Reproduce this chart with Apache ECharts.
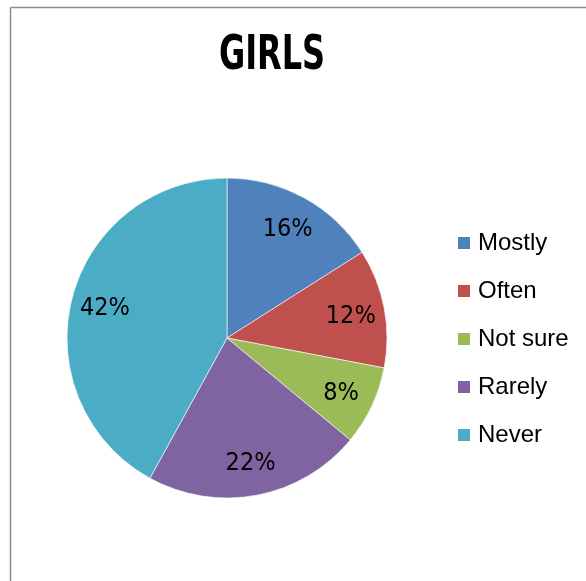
<!DOCTYPE html>
<html>
<head>
<meta charset="utf-8">
<script src="https://cdn.jsdelivr.net/npm/echarts@6/dist/echarts.min.js"></script>
<style>
  html, body { margin: 0; padding: 0; background: #fff; }
  #myChart { width: 586px; height: 581px; }
</style>
</head>
<body>
<div id="myChart"></div>
<script>
  // 数据
  const categories = ['Mostly', 'Often', 'Not sure', 'Rarely', 'Never'];
  const values = [16, 12, 8, 22, 42];
  const colors = ['#4F81BD', '#C0504D', '#9BBB59', '#8064A2', '#4BACC6'];
  const titleText = 'GIRLS';

  const pieData = categories.map((name, i) => ({ name: name, value: values[i] }));

  let myChart = echarts.init(document.getElementById('myChart'));
  myChart.setOption({
    animation: false,
    color: colors,
    legend: {
      orient: 'vertical',
      left: 456,
      top: 231,
      padding: 0,
      icon: 'rect',
      itemWidth: 14,
      itemHeight: 14,
      itemGap: 24,
      data: categories,
      textStyle: {
        fontFamily: '"Liberation Sans", Arial, sans-serif',
        fontSize: 24,
        lineHeight: 24,
        color: '#000',
        padding: [0, 0, 0, 2]
      }
    },
    graphic: [
      { type: 'line', shape: { x1: 10.5, y1: 7.5, x2: 586, y2: 7.5 }, style: { stroke: '#8c8c8c', lineWidth: 1.5 } },
      { type: 'line', shape: { x1: 10.5, y1: 7.5, x2: 10.5, y2: 581 }, style: { stroke: '#8c8c8c', lineWidth: 1.5 } },
      {
        // 标题：窄体粗字
        type: 'text',
        x: 272,
        y: 57,
        scaleX: 0.74,
        style: {
          text: titleText,
          fontFamily: '"DejaVu Sans Condensed", "Liberation Sans", sans-serif',
          fontSize: 48,
          fontWeight: 'bold',
          fill: '#000',
          align: 'center',
          verticalAlign: 'middle'
        }
      }
    ],
    series: [
      {
        name: 'GIRLS',
        type: 'pie',
        center: [227, 338],
        radius: 160,
        startAngle: 90,
        clockwise: true,
        silent: true,
        label: { show: false },
        labelLine: { show: false },
        itemStyle: { borderColor: '#ffffff', borderWidth: 0.6 },
        data: pieData
      },
      {
        // 只用来放百分比标签
        name: 'labels',
        type: 'pie',
        center: [227, 340],
        radius: [86, 160],
        startAngle: 90,
        clockwise: true,
        silent: true,
        itemStyle: { color: 'rgba(0,0,0,0)' },
        label: {
          show: true,
          position: 'inside',
          formatter: '{c}%',
          fontFamily: '"DejaVu Sans Condensed", "Liberation Sans", sans-serif',
          fontSize: 25,
          color: '#000'
        },
        labelLine: { show: false },
        data: pieData
      }
    ]
  });
</script>
</body>
</html>
